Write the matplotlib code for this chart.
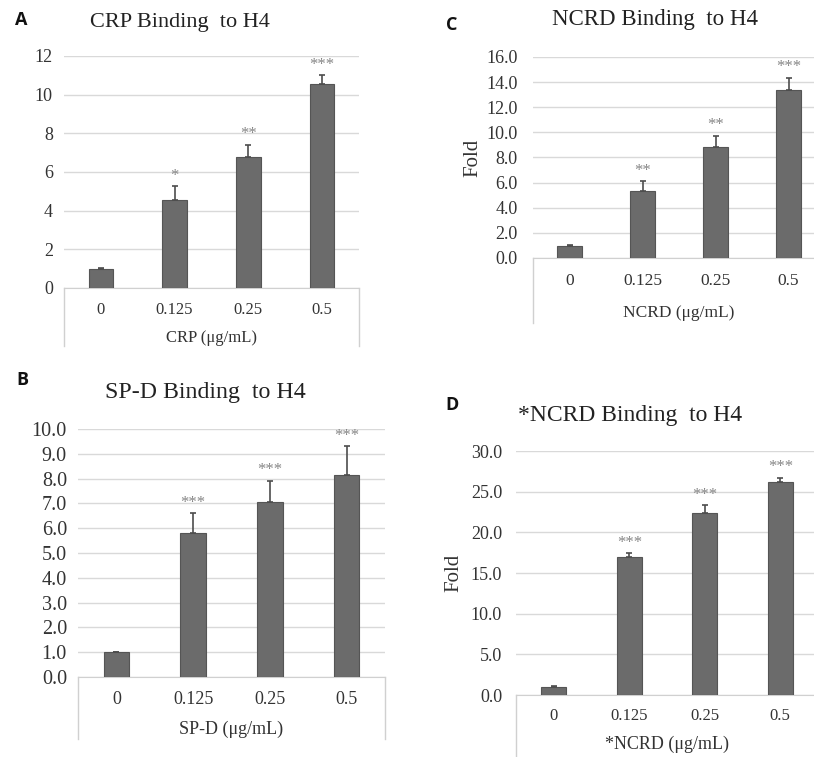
import matplotlib
matplotlib.use('Agg')
import matplotlib.pyplot as plt
import numpy as np

#%% data
doses = ['0', '0.125', '0.25', '0.5']

crp_vals = [1.0, 4.55, 6.8, 10.55]
crp_err = [0.03, 0.7, 0.6, 0.45]
crp_stars = ['', '*', '**', '***']

ncrd_vals = [0.95, 5.35, 8.8, 13.4]
ncrd_err = [0.05, 0.75, 0.9, 0.95]
ncrd_stars = ['', '**', '**', '***']

spd_vals = [1.0, 5.82, 7.05, 8.16]
spd_err = [0.02, 0.78, 0.85, 1.14]
spd_stars = ['', '***', '***', '***']

sncrd_vals = [1.0, 17.0, 22.4, 26.2]
sncrd_err = [0.05, 0.4, 0.9, 0.5]
sncrd_stars = ['', '***', '***', '***']

#%% figure
W, H = 814, 757
fig = plt.figure(figsize=(W / 100, H / 100), dpi=100)
serif = 'Liberation Serif'
bar_col = '#6b6b6b'
edge_col = '#555555'
grid_col = '#d9d9d9'
box_col = '#d0d0d0'
txt_col = '#333333'


def px_axes(left, right, top, bottom):
    # pixel box (origin top-left) -> figure fraction
    return fig.add_axes([left / W, 1 - bottom / H, (right - left) / W, (bottom - top) / H])


def panel(rect, vals, errs, stars, ymax, ystep, fmt, xlabel, box_bottom,
          ysize=13, xsize=12, lsize=12, ylabel=None, ylab_x=None, ypad=8, lpad=8, xpad=10):
    left, right, top, bottom = rect
    ax = px_axes(left, right, top, bottom)
    x = np.arange(len(doses))
    ax.bar(x, vals, width=0.33, color=bar_col, edgecolor=edge_col, linewidth=0.8, zorder=3)
    ax.errorbar(x, vals, yerr=[np.zeros(len(errs)), errs], fmt='none',
                ecolor='#4d4d4d', elinewidth=1.2, capsize=2.5, capthick=1.2, zorder=4)
    for xi, v, e, s in zip(x, vals, errs, stars):
        if s:
            ax.annotate(s, (xi, v + e), xytext=(0, 2), textcoords='offset points',
                        ha='center', va='bottom', fontsize=12, color='#858585',
                        family=serif)
    ax.set_xlim(-0.5, len(doses) - 0.5)
    ax.set_ylim(0, ymax)
    ticks = np.arange(0, ymax + ystep / 2, ystep)
    ax.set_yticks(ticks)
    ax.set_yticklabels([fmt % t for t in ticks], family=serif, fontsize=ysize, color=txt_col)
    ax.set_xticks(x)
    ax.set_xticklabels(doses, family=serif, fontsize=xsize, color=txt_col)
    ax.tick_params(axis='both', length=0)
    ax.tick_params(axis='y', pad=ypad)
    ax.tick_params(axis='x', pad=xpad)
    ax.yaxis.grid(True, color=grid_col, linewidth=1, zorder=0)
    ax.set_axisbelow(True)
    for sp in ['top', 'right', 'left']:
        ax.spines[sp].set_visible(False)
    ax.spines['bottom'].set_color(box_col)
    ax.set_xlabel(xlabel, family=serif, fontsize=lsize, color=txt_col, labelpad=lpad)
    # category box below the plot, like the spreadsheet chart
    depth = (box_bottom - bottom) / (bottom - top)
    for xe in [0, 1]:
        ax.plot([xe, xe], [0, -depth], transform=ax.transAxes, color=box_col,
                linewidth=1, clip_on=False)
    if ylabel:
        fig.text(ylab_x / W, 1 - (top + bottom) / 2 / H, ylabel, rotation=90,
                 ha='center', va='center', family=serif, fontsize=15, color=txt_col)
    return ax


panel((64, 359, 56, 288), crp_vals, crp_err, crp_stars, 12, 2, '%d',
      'CRP (\u03bcg/mL)', 346, ysize=13, xsize=12, lsize=12, ypad=8, lpad=9)
panel((533, 825, 57, 258), ncrd_vals, ncrd_err, ncrd_stars, 16, 2, '%.1f',
      'NCRD (\u03bcg/mL)', 323, ysize=13, xsize=12.5, lsize=12.5,
      ylabel='Fold', ylab_x=473, ypad=11, lpad=11, xpad=11)
panel((78, 385, 429, 677), spd_vals, spd_err, spd_stars, 10, 1, '%.1f',
      'SP-D (\u03bcg/mL)', 739, ysize=14.5, xsize=13, lsize=13, ypad=8, lpad=9)
panel((516, 818, 451, 695), sncrd_vals, sncrd_err, sncrd_stars, 30, 5, '%.1f',
      '*NCRD (\u03bcg/mL)', 790, ysize=13, xsize=12, lsize=13,
      ylabel='Fold', ylab_x=454, ypad=10, lpad=9, xpad=9)

# titles and panel letters
titles = [('CRP Binding  to H4', 180, 23, 16), ('NCRD Binding  to H4', 655, 20, 16.5),
          ('SP-D Binding  to H4', 205, 393, 17.2), ('*NCRD Binding  to H4', 630, 415, 17)]
for t, tx, ty, fs in titles:
    fig.text(tx / W, 1 - ty / H, t, ha='center', va='center', family=serif,
             fontsize=fs, color='#222222')

letters = [('A', 21, 20), ('C', 452, 25), ('B', 22, 380), ('D', 452, 405)]
for l, lx, ly in letters:
    fig.text(lx / W, 1 - ly / H, l, ha='center', va='center', family='Open Sans',
             fontweight='bold', fontsize=13, color='#111111')

fig.savefig('out.png', dpi=100)
